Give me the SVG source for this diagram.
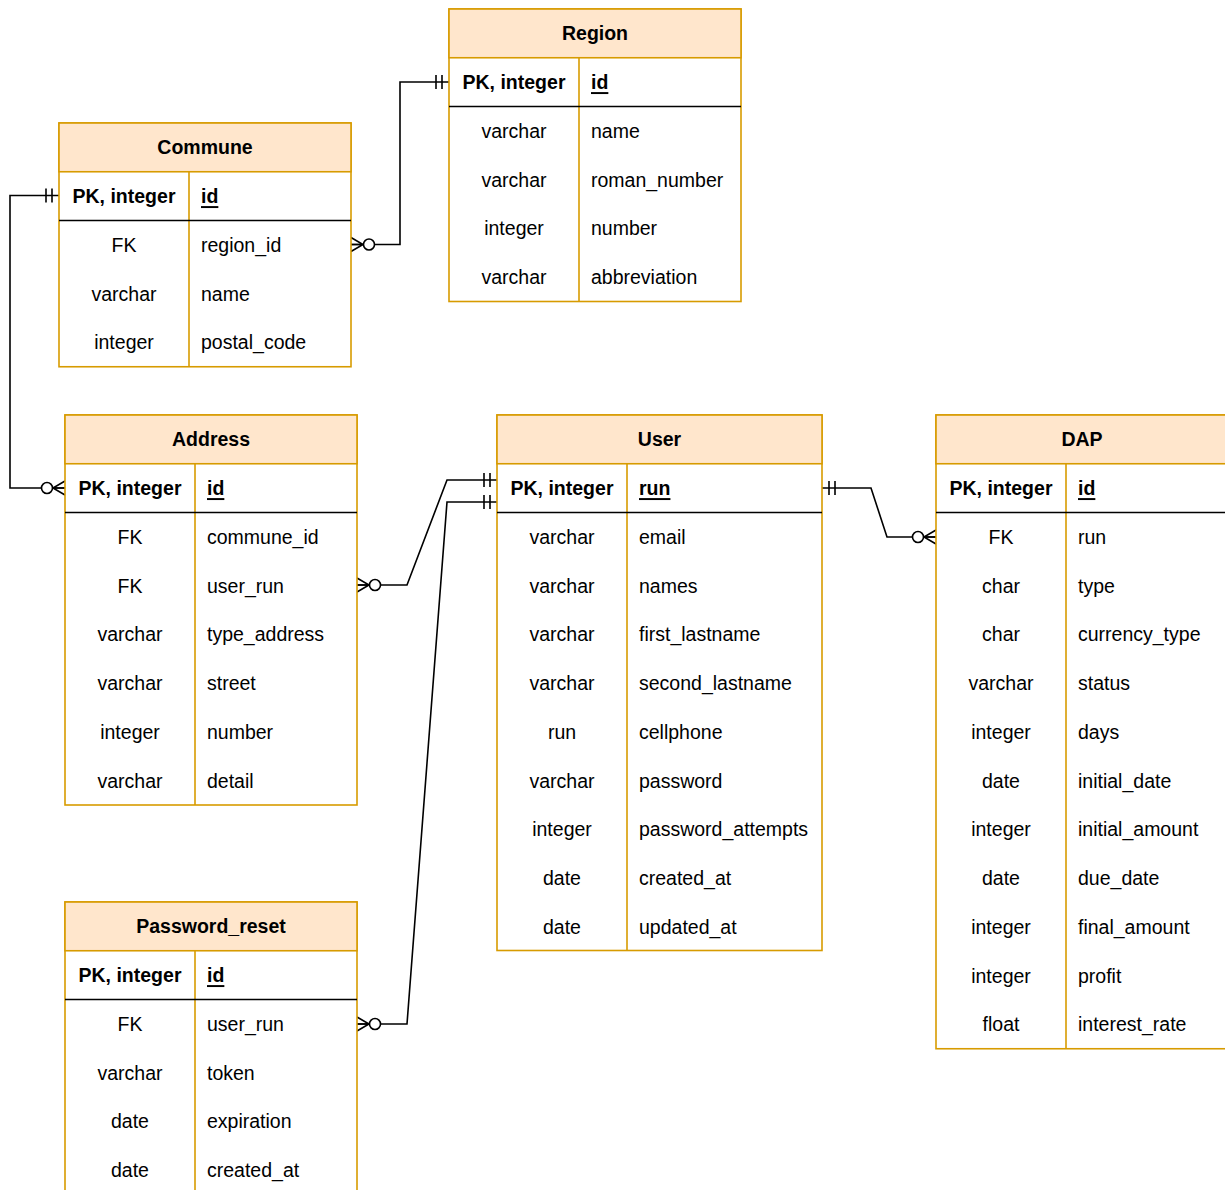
<svg xmlns="http://www.w3.org/2000/svg" width="1225" height="1190" viewBox="0 0 1225 1190">
<style>
.bg{fill:#ffffff}
.box{fill:#ffffff;stroke:#d79b00;stroke-width:1.6}
.hdr{fill:#ffe6cc;stroke:#d79b00;stroke-width:1.6}
.div{stroke:#d79b00;stroke-width:1.6}
.sep{stroke:#000000;stroke-width:1.6}
text{font-family:"Liberation Sans",Arial,sans-serif;font-size:19.5px;fill:#000000;dominant-baseline:central}
.t{font-weight:bold;text-anchor:middle}
.pk{font-weight:bold;text-anchor:middle}
.pkn{font-weight:bold;text-decoration:underline}
.ty{text-anchor:middle}
.conn{fill:none;stroke:#000000;stroke-width:1.6}
</style>
<defs>
<marker id="one" markerUnits="userSpaceOnUse" viewBox="-20 -10 22 20" refX="0" refY="0" markerWidth="22" markerHeight="20" orient="auto-start-reverse">
<path d="M-7,-7 V7 M-13,-7 V7" fill="none" stroke="#000" stroke-width="1.6"/>
</marker>
<marker id="many0" markerUnits="userSpaceOnUse" viewBox="-28 -10 30 20" refX="0" refY="0" markerWidth="30" markerHeight="20" orient="auto-start-reverse">
<path d="M0,-7 L-12,0 L0,7 M-12,0 H0" fill="none" stroke="#000" stroke-width="1.6"/>
<circle cx="-18" cy="0" r="5.5" fill="#fff" stroke="#000" stroke-width="1.6"/>
</marker>
</defs>
<rect class="bg" x="0" y="0" width="1225" height="1190"/>

<g id="connectors">
<path class="conn" d="M351,244.5 H400 V82 H449" marker-start="url(#many0)" marker-end="url(#one)"/>
<path class="conn" d="M65,488 H10 V195.5 H59" marker-start="url(#many0)" marker-end="url(#one)"/>
<path class="conn" d="M357,585 H407 L447,480 H497" marker-start="url(#many0)" marker-end="url(#one)"/>
<path class="conn" d="M357,1024 H407 L447,502 H497" marker-start="url(#many0)" marker-end="url(#one)"/>
<path class="conn" d="M936,537 H887 L871,488 H822" marker-start="url(#many0)" marker-end="url(#one)"/>
</g>

<g id="region">
<rect class="box" x="449" y="9" width="292" height="292.5"/>
<rect class="hdr" x="449" y="9" width="292" height="48.75"/>
<line class="div" x1="579" y1="57.75" x2="579" y2="301.5"/>
<line class="sep" x1="449" y1="106.5" x2="741" y2="106.5"/>
<text class="t" x="595" y="33.4">Region</text>
<text class="pk" x="514" y="82.1">PK, integer</text>
<text class="pkn" x="591" y="82.1">id</text>
<text class="ty" x="514" y="130.9">varchar</text><text x="591" y="130.9">name</text>
<text class="ty" x="514" y="179.6">varchar</text><text x="591" y="179.6">roman_number</text>
<text class="ty" x="514" y="228.4">integer</text><text x="591" y="228.4">number</text>
<text class="ty" x="514" y="277.1">varchar</text><text x="591" y="277.1">abbreviation</text>
</g>

<g id="commune">
<rect class="box" x="59" y="123" width="292" height="243.75"/>
<rect class="hdr" x="59" y="123" width="292" height="48.75"/>
<line class="div" x1="189" y1="171.75" x2="189" y2="366.75"/>
<line class="sep" x1="59" y1="220.5" x2="351" y2="220.5"/>
<text class="t" x="205" y="147.4">Commune</text>
<text class="pk" x="124" y="196.1">PK, integer</text>
<text class="pkn" x="201" y="196.1">id</text>
<text class="ty" x="124" y="244.9">FK</text><text x="201" y="244.9">region_id</text>
<text class="ty" x="124" y="293.6">varchar</text><text x="201" y="293.6">name</text>
<text class="ty" x="124" y="342.4">integer</text><text x="201" y="342.4">postal_code</text>
</g>

<g id="address">
<rect class="box" x="65" y="415" width="292" height="390"/>
<rect class="hdr" x="65" y="415" width="292" height="48.75"/>
<line class="div" x1="195" y1="463.75" x2="195" y2="805"/>
<line class="sep" x1="65" y1="512.5" x2="357" y2="512.5"/>
<text class="t" x="211" y="439.4">Address</text>
<text class="pk" x="130" y="488.1">PK, integer</text>
<text class="pkn" x="207" y="488.1">id</text>
<text class="ty" x="130" y="536.9">FK</text><text x="207" y="536.9">commune_id</text>
<text class="ty" x="130" y="585.6">FK</text><text x="207" y="585.6">user_run</text>
<text class="ty" x="130" y="634.4">varchar</text><text x="207" y="634.4">type_address</text>
<text class="ty" x="130" y="683.1">varchar</text><text x="207" y="683.1">street</text>
<text class="ty" x="130" y="731.9">integer</text><text x="207" y="731.9">number</text>
<text class="ty" x="130" y="780.6">varchar</text><text x="207" y="780.6">detail</text>
</g>

<g id="user">
<rect class="box" x="497" y="415" width="325" height="535.5"/>
<rect class="hdr" x="497" y="415" width="325" height="48.75"/>
<line class="div" x1="627" y1="463.75" x2="627" y2="950.5"/>
<line class="sep" x1="497" y1="512.5" x2="822" y2="512.5"/>
<text class="t" x="659.5" y="439.4">User</text>
<text class="pk" x="562" y="488.1">PK, integer</text>
<text class="pkn" x="639" y="488.1">run</text>
<text class="ty" x="562" y="536.9">varchar</text><text x="639" y="536.9">email</text>
<text class="ty" x="562" y="585.6">varchar</text><text x="639" y="585.6">names</text>
<text class="ty" x="562" y="634.4">varchar</text><text x="639" y="634.4">first_lastname</text>
<text class="ty" x="562" y="683.1">varchar</text><text x="639" y="683.1">second_lastname</text>
<text class="ty" x="562" y="731.9">run</text><text x="639" y="731.9">cellphone</text>
<text class="ty" x="562" y="780.6">varchar</text><text x="639" y="780.6">password</text>
<text class="ty" x="562" y="829.4">integer</text><text x="639" y="829.4">password_attempts</text>
<text class="ty" x="562" y="878.1">date</text><text x="639" y="878.1">created_at</text>
<text class="ty" x="562" y="926.9">date</text><text x="639" y="926.9">updated_at</text>
</g>

<g id="dap">
<rect class="box" x="936" y="415" width="292" height="633.75"/>
<rect class="hdr" x="936" y="415" width="292" height="48.75"/>
<line class="div" x1="1066" y1="463.75" x2="1066" y2="1048.75"/>
<line class="sep" x1="936" y1="512.5" x2="1228" y2="512.5"/>
<text class="t" x="1082" y="439.4">DAP</text>
<text class="pk" x="1001" y="488.1">PK, integer</text>
<text class="pkn" x="1078" y="488.1">id</text>
<text class="ty" x="1001" y="536.9">FK</text><text x="1078" y="536.9">run</text>
<text class="ty" x="1001" y="585.6">char</text><text x="1078" y="585.6">type</text>
<text class="ty" x="1001" y="634.4">char</text><text x="1078" y="634.4">currency_type</text>
<text class="ty" x="1001" y="683.1">varchar</text><text x="1078" y="683.1">status</text>
<text class="ty" x="1001" y="731.9">integer</text><text x="1078" y="731.9">days</text>
<text class="ty" x="1001" y="780.6">date</text><text x="1078" y="780.6">initial_date</text>
<text class="ty" x="1001" y="829.4">integer</text><text x="1078" y="829.4">initial_amount</text>
<text class="ty" x="1001" y="878.1">date</text><text x="1078" y="878.1">due_date</text>
<text class="ty" x="1001" y="926.9">integer</text><text x="1078" y="926.9">final_amount</text>
<text class="ty" x="1001" y="975.6">integer</text><text x="1078" y="975.6">profit</text>
<text class="ty" x="1001" y="1024.4">float</text><text x="1078" y="1024.4">interest_rate</text>
</g>

<g id="password_reset">
<rect class="box" x="65" y="902" width="292" height="292.5"/>
<rect class="hdr" x="65" y="902" width="292" height="48.75"/>
<line class="div" x1="195" y1="950.75" x2="195" y2="1194.5"/>
<line class="sep" x1="65" y1="999.5" x2="357" y2="999.5"/>
<text class="t" x="211" y="926.4">Password_reset</text>
<text class="pk" x="130" y="975.1">PK, integer</text>
<text class="pkn" x="207" y="975.1">id</text>
<text class="ty" x="130" y="1023.9">FK</text><text x="207" y="1023.9">user_run</text>
<text class="ty" x="130" y="1072.6">varchar</text><text x="207" y="1072.6">token</text>
<text class="ty" x="130" y="1121.4">date</text><text x="207" y="1121.4">expiration</text>
<text class="ty" x="130" y="1170.1">date</text><text x="207" y="1170.1">created_at</text>
</g>
</svg>
